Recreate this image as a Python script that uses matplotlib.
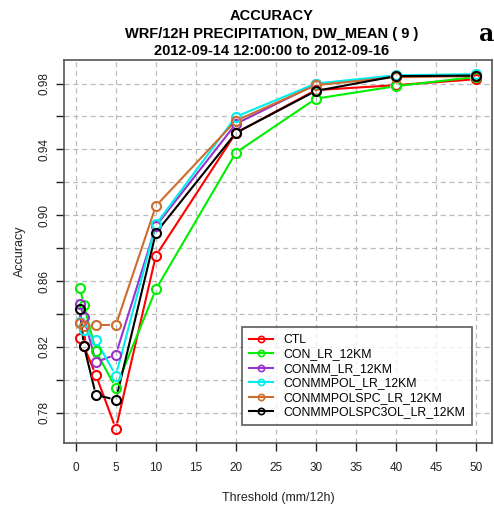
import numpy as np
import matplotlib
matplotlib.use("Agg")
import matplotlib.pyplot as plt

plt.rcParams['font.family'] = ['Liberation Sans', 'DejaVu Sans']

# thresholds (mm/12h)
thresholds = [0.5, 1, 2.5, 5, 10, 20, 30, 40, 50]

names = ["CTL", "CON_LR_12KM", "CONMM_LR_12KM", "CONMMPOL_LR_12KM",
         "CONMMPOLSPC_LR_12KM", "CONMMPOLSPC3OL_LR_12KM"]
colors = ["#FF0000", "#00EE00", "#9A32CD", "#00EEEE", "#CD6D2D", "#000000"]

ctl = [0.8255, 0.8205, 0.8030, 0.7703, 0.8754, 0.9500, 0.9760, 0.9790, 0.9826]
con = [0.8558, 0.8457, 0.8174, 0.7952, 0.8550, 0.9380, 0.9708, 0.9784, 0.9840]
conmm = [0.8461, 0.8380, 0.8107, 0.8154, 0.8934, 0.9555, 0.9795, 0.9847, 0.9850]
conmmpol = [0.8350, 0.8300, 0.8242, 0.8026, 0.8944, 0.9598, 0.9800, 0.9850, 0.9857]
conmmpolspc = [0.8343, 0.8330, 0.8333, 0.8333, 0.9056, 0.9574, 0.9790, 0.9838, 0.9845]
conmmpolspc3ol = [0.8430, 0.8208, 0.7909, 0.7879, 0.8893, 0.9500, 0.9755, 0.9845, 0.9848]

series = [ctl, con, conmm, conmmpol, conmmpolspc, conmmpolspc3ol]

fig = plt.figure(figsize=(4.94, 5.08), dpi=100)
ax = fig.add_axes([0.1296, 0.128, 0.8657, 0.754])

xmin, xmax = 0.5, 50
ymin = min(min(s) for s in series)
ymax = max(max(s) for s in series)
dx = (xmax - xmin) * 0.04
dy = (ymax - ymin) * 0.04
ax.set_xlim(xmin - dx, xmax + dx)
ax.set_ylim(ymin - dy, ymax + dy)

# R style type="b": lines with gaps around the points
gap = 5.5  # pixels
fig.canvas.draw()
trans = ax.transData
inv = trans.inverted()
for vals, col in zip(series, colors):
    pts = trans.transform(np.column_stack([thresholds, vals]))
    for p0, p1 in zip(pts[:-1], pts[1:]):
        d = p1 - p0
        L = np.hypot(*d)
        if L <= 2 * gap:
            continue
        u = d / L
        a = inv.transform(p0 + u * gap)
        b = inv.transform(p1 - u * gap)
        ax.plot([a[0], b[0]], [a[1], b[1]], color=col, lw=1.5, solid_capstyle='butt', zorder=3)
    ax.plot(thresholds, vals, ls='none', marker='o', ms=6.5, mfc='none',
            mec=col, mew=1.5, zorder=4)

# legend proxies
for name, col in zip(names, colors):
    ax.plot([], [], color=col, lw=1.5, marker='o', ms=4.5, mfc='none', mew=1.2, label=name)

ax.set_xticks(np.arange(0, 51, 5))
yt = np.round(np.arange(0.78, 0.99, 0.02), 2)
ax.set_yticks(yt)
ax.set_yticklabels(["%.2f" % v if i % 2 == 0 else "" for i, v in enumerate(yt)],
                   rotation=90, va='center')
ax.grid(True, color='#BBBBBB', ls=(0, (4, 3)), lw=0.9)
ax.set_axisbelow(True)
ax.tick_params(direction='out', length=6, width=1, colors='#222222', labelsize=8.5,
               labelcolor='#222222')
ax.tick_params(axis='x', pad=8)
ax.tick_params(axis='y', pad=4)
for sp in ax.spines.values():
    sp.set_color('#555555')
    sp.set_linewidth(1.2)

ax.set_xlabel("Threshold (mm/12h)", fontsize=9, color='#222222', labelpad=13)
ax.set_ylabel("Accuracy", fontsize=9, color='#222222', labelpad=9)

leg = ax.legend(loc='lower right', bbox_to_anchor=(0.953, 0.047), fontsize=8.8,
                frameon=True, fancybox=False, handlelength=2.0, handletextpad=0.8,
                borderpad=0.55, labelspacing=0.2, borderaxespad=0)
leg.get_frame().set_edgecolor('#333333')
leg.get_frame().set_linewidth(1.2)

fig.text(0.55, 0.969, "ACCURACY", ha='center', va='center', fontsize=10.5, fontweight='bold')
fig.text(0.55, 0.934, "WRF/12H PRECIPITATION, DW_MEAN ( 9 )", ha='center', va='center',
         fontsize=10.5, fontweight='bold')
fig.text(0.55, 0.900, "2012-09-14 12:00:00 to 2012-09-16", ha='center', va='center',
         fontsize=10.5, fontweight='bold')
fig.text(0.985, 0.933, "a", ha='center', va='center', fontsize=17, fontweight='bold',
         family='DejaVu Serif')

fig.savefig("out.png", dpi=100)
